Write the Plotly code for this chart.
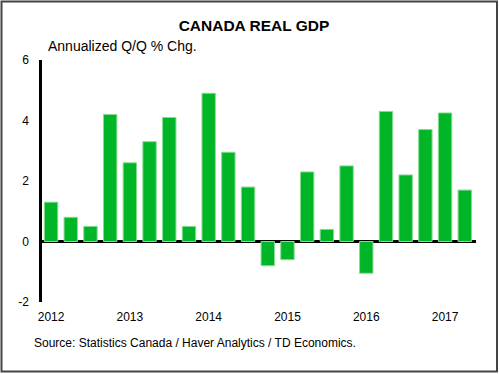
import plotly.graph_objects as go

quarters = list(range(22))
gdp_growth = [1.3, 0.8, 0.5, 4.2, 2.6, 3.3, 4.1, 0.5, 4.9, 2.95, 1.8,
              -0.8, -0.6, 2.3, 0.4, 2.5, -1.05, 4.3, 2.2, 3.7, 4.25, 1.7]
year_ticks = [0, 4, 8, 12, 16, 20]
year_labels = ["2012", "2013", "2014", "2015", "2016", "2017"]
y_ticks = [-2, 0, 2, 4, 6]
y_tick_labels = ["-2", "0", "2", "4", "6"]

FONT = "Liberation Sans, Arial, sans-serif"
W, H = 500, 374
L, R, T, B = 42, 24, 60, 72
pw, ph = W - L - R, H - T - B

def px_x(px):
    return (px - L) / pw

def px_y(py):
    return (H - B - py) / ph

fig = go.Figure()
fig.add_trace(go.Bar(
    x=quarters, y=gdp_growth,
    marker=dict(color="#00B526", line=dict(color="#86DC90", width=1)),
    hoverinfo="y",
))

fig.update_layout(
    width=W, height=H,
    margin=dict(l=L, r=R, t=T, b=B),
    paper_bgcolor="white", plot_bgcolor="white",
    bargap=0.32,
    showlegend=False,
    font=dict(family=FONT, size=12, color="black"),
    title=dict(text="<b>CANADA REAL GDP</b>", xref="container", yref="container",
               x=254 / W, y=1 - 26 / H, xanchor="center", yanchor="middle",
               font=dict(family=FONT, size=15.5, color="black")),
    xaxis=dict(range=[-0.46, 21.57], tickvals=year_ticks, ticktext=year_labels,
               showgrid=False, zeroline=False, showline=False, ticks="",
               ticklabelstandoff=6, tickfont=dict(size=12)),
    yaxis=dict(range=[-2, 6], tickvals=y_ticks, ticktext=y_tick_labels,
               showgrid=False,
               zeroline=True, zerolinecolor="black", zerolinewidth=2.5,
               showline=True, linecolor="black", linewidth=2.5, ticks="",
               ticklabelstandoff=8, tickfont=dict(size=12)),
    annotations=[
        dict(text="Annualized Q/Q % Chg.", xref="paper", yref="paper",
             x=px_x(46), y=px_y(46), xanchor="left", yanchor="middle",
             showarrow=False, font=dict(family=FONT, size=14)),
        dict(text="Source: Statistics Canada / Haver Analytics / TD Economics.",
             xref="paper", yref="paper", x=px_x(32), y=px_y(343),
             xanchor="left", yanchor="middle", showarrow=False,
             font=dict(family=FONT, size=12)),
    ],
    shapes=[
        dict(type="rect", xref="paper", yref="paper",
             x0=px_x(1.5), x1=px_x(497), y0=px_y(371.5), y1=px_y(1.5),
             line=dict(color="#444444", width=2), fillcolor="rgba(0,0,0,0)",
             layer="above"),
    ],
)

fig.write_html(
    "out.html",
    config={"displayModeBar": False},
    post_script="document.body.style.margin='0';document.body.style.overflow='hidden';",
)
